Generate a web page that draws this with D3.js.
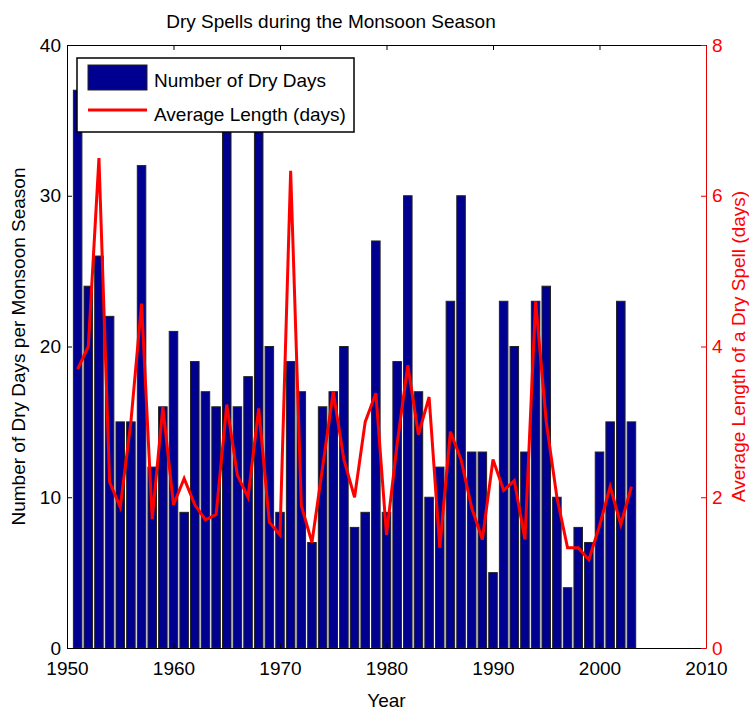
<!DOCTYPE html>
<html>
<head>
<meta charset="utf-8">
<script src="https://d3js.org/d3.v7.min.js"></script>
<style>
  body { margin: 0; background: #fff; }
  svg { font-family: "Liberation Sans", Arial, sans-serif; }
</style>
</head>
<body>
<div id="chart"></div>
<script>
// --- data
var years = [1951, 1952, 1953, 1954, 1955, 1956, 1957, 1958, 1959, 1960,
             1961, 1962, 1963, 1964, 1965, 1966, 1967, 1968, 1969, 1970,
             1971, 1972, 1973, 1974, 1975, 1976, 1977, 1978, 1979, 1980,
             1981, 1982, 1983, 1984, 1985, 1986, 1987, 1988, 1989, 1990,
             1991, 1992, 1993, 1994, 1995, 1996, 1997, 1998, 1999, 2000,
             2001, 2002, 2003];
var dryDays = [37, 24, 26, 22, 15, 15, 32, 12, 16, 21,
               9, 19, 17, 16, 36, 16, 18, 35, 20, 9,
               19, 17, 7, 16, 17, 20, 8, 9, 27, 9,
               19, 30, 17, 10, 12, 23, 30, 13, 13, 5,
               23, 20, 13, 23, 24, 10, 4, 8, 7, 13,
               15, 23, 15];
var avgLength = [3.7, 4.0, 6.5, 2.2, 1.87, 3.0, 4.57, 1.71, 3.2, 1.9,
                 2.25, 1.9, 1.7, 1.77, 3.23, 2.29, 2.0, 3.18, 1.67, 1.5,
                 6.33, 1.89, 1.4, 2.4, 3.4, 2.5, 2.0, 3.0, 3.38, 1.5,
                 2.71, 3.75, 2.83, 3.33, 1.33, 2.87, 2.5, 1.86, 1.44, 2.5,
                 2.09, 2.22, 1.44, 4.6, 3.0, 2.0, 1.33, 1.33, 1.17, 1.62,
                 2.14, 1.64, 2.14];
var xTicks = [1950, 1960, 1970, 1980, 1990, 2000, 2010];
var leftTicks = [0, 10, 20, 30, 40];
var rightTicks = [0, 2, 4, 6, 8];
var legendLabels = ['Number of Dry Days', 'Average Length (days)'];

var W = 749, H = 711;
var margin = {top: 45, right: 43, bottom: 63, left: 67};
var width = W - margin.left - margin.right,
    height = H - margin.top - margin.bottom;

var barColor = '#000090', lineColor = '#ff0000';

var svg = d3.select('#chart').append('svg')
    .attr('width', W)
    .attr('height', H);

var g = svg.append('g')
    .attr('transform', 'translate(' + margin.left + ',' + margin.top + ')');

var x = d3.scaleLinear().domain([1950, 2010]).range([0, width]);
var yL = d3.scaleLinear().domain([0, 40]).range([height, 0]);
var yR = d3.scaleLinear().domain([0, 8]).range([height, 0]);

var barW = (x(1951) - x(1950)) * 0.8;

// bars
g.selectAll('rect.bar')
    .data(years)
  .enter().append('rect')
    .attr('class', 'bar')
    .attr('x', function(d) { return x(d) - barW / 2; })
    .attr('y', function(d, i) { return yL(dryDays[i]); })
    .attr('width', barW)
    .attr('height', function(d, i) { return height - yL(dryDays[i]); })
    .attr('fill', barColor)
    .attr('stroke', '#222')
    .attr('stroke-width', 1);

// line
var line = d3.line()
    .x(function(d) { return x(d); })
    .y(function(d, i) { return yR(avgLength[i]); });

g.append('path')
    .datum(years)
    .attr('fill', 'none')
    .attr('stroke', lineColor)
    .attr('stroke-width', 3)
    .attr('stroke-linejoin', 'miter')
    .attr('d', line);

// axes
var fs = '19px';

var ax = g.append('g')
    .attr('transform', 'translate(0,' + height + ')')
    .call(d3.axisBottom(x).tickValues(xTicks).tickFormat(d3.format('d'))
      .tickSizeInner(-5).tickSizeOuter(0).tickPadding(14));

g.append('g')
    .call(d3.axisTop(x).tickValues(xTicks).tickFormat('')
      .tickSizeInner(-5).tickSizeOuter(0));

var ayl = g.append('g')
    .call(d3.axisLeft(yL).tickValues(leftTicks)
      .tickSizeInner(-5).tickSizeOuter(0).tickPadding(6));

var ayr = g.append('g')
    .attr('transform', 'translate(' + width + ',0)')
    .call(d3.axisRight(yR).tickValues(rightTicks)
      .tickSizeInner(-5).tickSizeOuter(0).tickPadding(6));

g.selectAll('.tick text')
    .style('font-size', fs)
    .attr('fill', '#000');
g.selectAll('.domain, .tick line').attr('stroke', '#000');

ayr.selectAll('.domain, .tick line').attr('stroke', '#e00000');
ayr.selectAll('.tick text').attr('fill', lineColor);

// labels
svg.append('text')
    .attr('x', 331).attr('y', 28)
    .attr('text-anchor', 'middle')
    .style('font-size', fs)
    .text('Dry Spells during the Monsoon Season');

svg.append('text')
    .attr('x', margin.left + width / 2).attr('y', 707)
    .attr('text-anchor', 'middle')
    .style('font-size', fs)
    .text('Year');

svg.append('text')
    .attr('transform', 'translate(25,' + (margin.top + height / 2) + ') rotate(-90)')
    .attr('text-anchor', 'middle')
    .style('font-size', fs)
    .text('Number of Dry Days per Monsoon Season');

svg.append('text')
    .attr('transform', 'translate(745,' + (margin.top + height / 2) + ') rotate(-90)')
    .attr('text-anchor', 'middle')
    .attr('fill', lineColor)
    .style('font-size', fs)
    .text('Average Length of a Dry Spell (days)');

// legend
var leg = svg.append('g').attr('transform', 'translate(77,58)');

leg.append('rect')
    .attr('width', 277).attr('height', 74)
    .attr('fill', '#fff')
    .attr('stroke', '#000')
    .attr('stroke-width', 1.5);

leg.append('rect')
    .attr('x', 11).attr('y', 7)
    .attr('width', 59).attr('height', 25)
    .attr('fill', barColor)
    .attr('stroke', '#222');

leg.append('line')
    .attr('x1', 11).attr('x2', 70)
    .attr('y1', 52).attr('y2', 52)
    .attr('stroke', lineColor)
    .attr('stroke-width', 3);

leg.selectAll('text.leg')
    .data(legendLabels)
  .enter().append('text')
    .attr('class', 'leg')
    .attr('x', 77)
    .attr('y', function(d, i) { return 29 + i * 34; })
    .style('font-size', fs)
    .text(function(d) { return d; });
</script>
</body>
</html>
